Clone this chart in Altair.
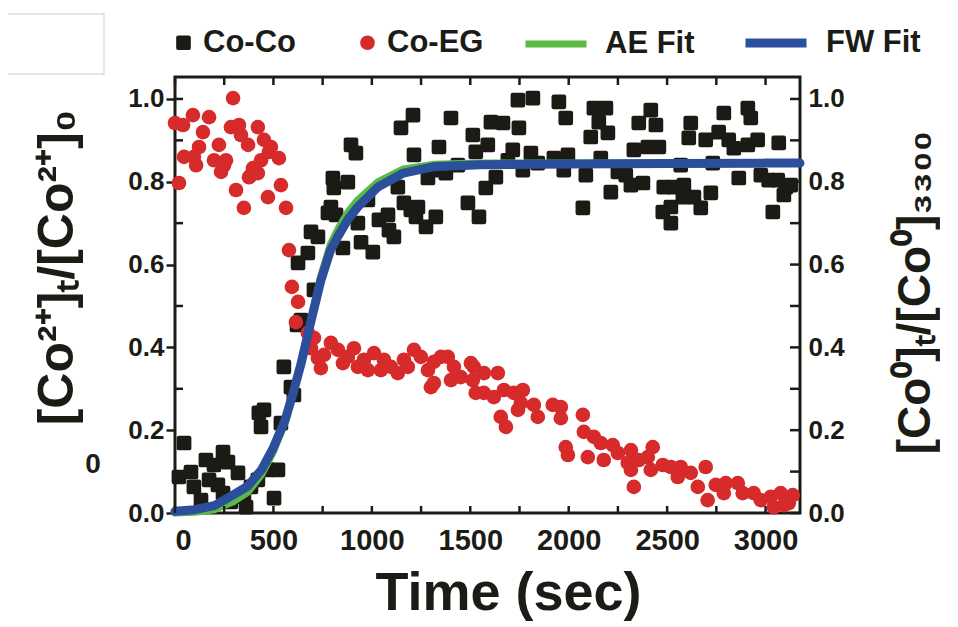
import altair as alt
import pandas as pd

# ---------------- data ----------------
# Co-Co (black squares): time (sec) and normalised value
cc_t = [20, 46, 81, 96, 132, 157, 173, 198, 218, 244,
        269, 244, 284, 320, 350, 361, 386, 421, 426, 452,
        437, 472, 523, 503, 538, 553, 589, 604, 620, 640,
        706, 625, 675, 691, 726, 777, 792, 818, 802, 807,
        878, 853, 894, 919, 929, 980, 945, 1005, 1036, 1082,
        1087, 1112, 1132, 1148, 1209, 1163, 1198, 1234, 1224, 1275,
        1214, 1285, 1325, 1341, 1351, 1376, 1402, 1437, 1488, 1513,
        1528, 1544, 1589, 1605, 1666, 1742, 1818, 1747, 1716, 1808,
        1843, 1767, 1691, 1630, 1579, 1950, 1985, 1925, 1996, 1975,
        2072, 2087, 2112, 2128, 2189, 2153, 2199, 2163, 2214, 2250,
        2290, 2316, 2377, 2331, 2356, 2417, 2443, 2402, 2458, 2483,
        2534, 2585, 2478, 2519, 2519, 2569, 2580, 2610, 2620, 2636,
        2671, 2696, 2722, 2732, 2762, 2788, 2813, 2839, 2864, 2910,
        2925, 2910, 2960, 2976, 3016, 3037, 3067, 3062, 3103, 3093,
        3128]
cc_v = [0.087, 0.169, 0.099, 0.063, 0.031, 0.128, 0.080, 0.116, 0.068, 0.147,
        0.123, 0.048, 0.027, 0.097, 0.039, 0.014, 0.063, 0.080, 0.242, 0.249,
        0.208, 0.104, 0.104, 0.036, 0.217, 0.353, 0.304, 0.285, 0.454, 0.466,
        0.539, 0.604, 0.628, 0.679, 0.667, 0.725, 0.739, 0.720, 0.809, 0.785,
        0.799, 0.640, 0.889, 0.869, 0.700, 0.756, 0.654, 0.630, 0.708, 0.720,
        0.683, 0.667, 0.787, 0.930, 0.961, 0.749, 0.732, 0.739, 0.715, 0.691,
        0.865, 0.809, 0.715, 0.884, 0.828, 0.821, 0.954, 0.840, 0.749, 0.913,
        0.872, 0.715, 0.889, 0.944, 0.942, 0.997, 1.002, 0.930, 0.877, 0.869,
        0.845, 0.828, 0.852, 0.811, 0.785, 0.993, 0.954, 0.857, 0.865, 0.828,
        0.737, 0.816, 0.908, 0.978, 0.978, 0.944, 0.918, 0.857, 0.775, 0.824,
        0.816, 0.792, 0.797, 0.877, 0.942, 0.973, 0.937, 0.884, 0.884, 0.787,
        0.787, 0.792, 0.727, 0.739, 0.700, 0.840, 0.763, 0.906, 0.942, 0.763,
        0.737, 0.901, 0.773, 0.845, 0.920, 0.966, 0.901, 0.881, 0.809, 0.978,
        0.954, 0.889, 0.901, 0.816, 0.804, 0.727, 0.894, 0.804, 0.787, 0.768,
        0.792]

# Co-EG (red circles)
eg_t = [0, 41, 91, 142, 173, 122, 96, 46, 107, 20,
        223, 198, 249, 234, 295, 284, 325, 335, 371, 310,
        350, 396, 376, 421, 452, 437, 421, 487, 528, 472,
        538, 564, 477, 386, 259, 579, 594, 625, 614, 675,
        706, 691, 726, 741, 757, 792, 828, 853, 878, 909,
        929, 960, 980, 1011, 1046, 1061, 1097, 1132, 1163, 1183,
        1214, 1249, 1285, 1300, 1315, 1315, 1351, 1386, 1402, 1417,
        1452, 1503, 1528, 1518, 1513, 1569, 1640, 1569, 1620, 1671,
        1721, 1767, 1757, 1742, 1655, 1681, 1823, 1843, 1919, 1960,
        1960, 2072, 2077, 2128, 2163, 2224, 1985, 1996, 2097, 2178,
        2250, 2316, 2300, 2356, 2316, 2331, 2427, 2402, 2417, 2478,
        2519, 2569, 2554, 2620, 2696, 2656, 2706, 2747, 2798, 2788,
        2859, 2884, 2940, 2976, 3026, 3042, 3077, 3118, 3138, 3093]
eg_v = [0.942, 0.937, 0.961, 0.920, 0.956, 0.884, 0.860, 0.860, 0.840, 0.797,
        0.889, 0.852, 0.840, 0.824, 1.002, 0.932, 0.937, 0.913, 0.889, 0.780,
        0.737, 0.833, 0.811, 0.932, 0.901, 0.852, 0.821, 0.884, 0.857, 0.763,
        0.792, 0.737, 0.872, 0.816, 0.852, 0.635, 0.546, 0.510, 0.461, 0.435,
        0.423, 0.398, 0.374, 0.350, 0.382, 0.411, 0.394, 0.362, 0.377, 0.398,
        0.353, 0.370, 0.345, 0.386, 0.345, 0.370, 0.353, 0.338, 0.370, 0.353,
        0.394, 0.377, 0.345, 0.304, 0.314, 0.365, 0.377, 0.377, 0.321, 0.353,
        0.328, 0.362, 0.290, 0.353, 0.321, 0.338, 0.338, 0.290, 0.280, 0.297,
        0.290, 0.297, 0.266, 0.249, 0.232, 0.208, 0.261, 0.232, 0.261, 0.256,
        0.229, 0.237, 0.196, 0.184, 0.169, 0.164, 0.159, 0.140, 0.135, 0.128,
        0.145, 0.152, 0.121, 0.128, 0.104, 0.063, 0.159, 0.135, 0.104, 0.116,
        0.111, 0.111, 0.087, 0.097, 0.111, 0.063, 0.031, 0.068, 0.072, 0.048,
        0.072, 0.048, 0.048, 0.031, 0.039, 0.014, 0.048, 0.024, 0.043, 0.019]

# Fit curves
fit_t = [0, 100, 200, 300, 370, 440, 500, 560, 600, 640, 690, 740, 790, 830,
         880, 930, 1030, 1160, 1310, 1550, 2000, 2500, 3000, 3175]
ae_v = [0.000, 0.002, 0.008, 0.028, 0.050, 0.092, 0.148, 0.220, 0.288, 0.362,
        0.468, 0.572, 0.650, 0.688, 0.728, 0.757, 0.800, 0.831, 0.842, 0.845,
        0.845, 0.845, 0.845, 0.845]
fw_v = [0.004, 0.008, 0.018, 0.045, 0.065, 0.105, 0.158, 0.225, 0.290, 0.360,
        0.462, 0.560, 0.635, 0.670, 0.710, 0.740, 0.787, 0.821, 0.836, 0.841,
        0.843, 0.844, 0.845, 0.845]

series_names = ["Co-Co", "Co-EG"]
fit_names = ["AE Fit", "FW Fit"]
x_label_vals = [0, 500, 1000, 1500, 2000, 2500, 3000]
x_tick_vals = [0, 250, 500, 750, 1000, 1250, 1500, 1750, 2000, 2250, 2500, 2750, 3000]
y_label_vals = [0.0, 0.2, 0.4, 0.6, 0.8, 1.0]
y_tick_vals = [0.0, 0.1, 0.2, 0.3, 0.4, 0.5, 0.6, 0.7, 0.8, 0.9, 1.0]
y_minor_vals = [0.1, 0.3, 0.5, 0.7, 0.9, 1.0]

# ---------------- styling ----------------
W, H = 625, 436
INK = "#1c1c17"
FONT = "Liberation Sans"
BLACK = "#1b1a15"
RED = "#d62a2b"
GREEN = "#5bb946"
BLUE = "#2c4f9c"
ROUND_SQUARE = ("M-0.7,-1L0.7,-1Q1,-1 1,-0.7L1,0.7Q1,1 0.7,1L-0.7,1"
                "Q-1,1 -1,0.7L-1,-0.7Q-1,-1 -0.7,-1Z")

pts = pd.DataFrame({
    "t": cc_t + eg_t,
    "v": cc_v + eg_v,
    "series": [series_names[0]] * len(cc_t) + [series_names[1]] * len(eg_t),
})
fits = pd.DataFrame({
    "t": fit_t + fit_t,
    "v": ae_v + fw_v,
    "fit": [fit_names[0]] * len(fit_t) + [fit_names[1]] * len(fit_t),
})

xs = alt.Scale(domain=[0, 3175], nice=False, zero=False)
ys = alt.Scale(domain=[0, 1.053], nice=False, zero=False)

label_style = dict(labelFont=FONT, labelFontWeight="bold", labelColor=INK)
title_style = dict(titleFont=FONT, titleFontWeight="bold", titleColor=INK)

leg_points = dict(title=None, orient="none", direction="horizontal",
                  legendX=-7, legendY=-50, padding=0,
                  labelFont=FONT, labelFontSize=31, labelFontWeight="bold",
                  labelColor=INK, labelOffset=4, columnPadding=56,
                  labelLimit=400, symbolSize=215, symbolStrokeWidth=0)
leg_lines = dict(title=None, orient="none", direction="horizontal",
                 legendX=347, legendY=-69, padding=0,
                 labelFont=FONT, labelFontSize=31, labelFontWeight="bold",
                 labelColor=INK, labelOffset=15, columnPadding=32,
                 labelLimit=400, symbolType="stroke", symbolSize=3721,
                 symbolStrokeWidth=8)

x_axis = alt.Axis(values=x_label_vals, format="d", title="Time (sec)",
                  titleFontSize=54, titleX=333, titleY=96,
                  titleAlign="center", titleBaseline="alphabetic",
                  labelFontSize=29, labelPadding=13, ticks=False,
                  domain=False, grid=False, **label_style, **title_style)
y_left = alt.Axis(values=y_label_vals, format=".1f",
                  title="[Co²⁺]ₜ/[Co²⁺]₀", titleFontSize=50, titleAngle=270,
                  titleX=-118, titleY=190, titleAlign="center",
                  titleBaseline="middle",
                  labelFontSize=26, labelPadding=2, ticks=True, tickSize=9,
                  tickWidth=2.5, tickColor=INK, domain=False, grid=False,
                  **label_style, **title_style)
y_right = alt.Axis(orient="right", values=y_label_vals, format=".1f",
                   title="[Co⁰]ₜ/[Co⁰]₃₃₀₀", titleFontSize=46, titleAngle=270,
                   titleX=115, titleY=215, titleAlign="center",
                   titleBaseline="middle",
                   labelFontSize=26, labelPadding=8, ticks=False,
                   domain=False, grid=False, **label_style, **title_style)

points = alt.Chart(pts).mark_point(filled=True, opacity=1, size=215).encode(
    x=alt.X("t:Q", scale=xs, axis=x_axis),
    y=alt.Y("v:Q", scale=ys, axis=y_left),
    color=alt.Color("series:N",
                    scale=alt.Scale(domain=series_names, range=[BLACK, RED]),
                    legend=alt.Legend(**leg_points)),
    shape=alt.Shape("series:N",
                    scale=alt.Scale(domain=series_names,
                                    range=[ROUND_SQUARE, "circle"]),
                    legend=alt.Legend(**leg_points)),
)

lines = alt.Chart(fits).mark_line(strokeCap="round", strokeJoin="round").encode(
    x=alt.X("t:Q", scale=xs, axis=None),
    y=alt.Y("v:Q", scale=ys, axis=y_right),
    stroke=alt.Stroke("fit:N",
                      scale=alt.Scale(domain=fit_names, range=[GREEN, BLUE]),
                      legend=alt.Legend(**leg_lines)),
    strokeWidth=alt.StrokeWidth("fit:N",
                                scale=alt.Scale(domain=fit_names, range=[7, 9]),
                                legend=None),
)

xt = pd.DataFrame({"t": x_tick_vals})
yt = pd.DataFrame({"v": y_tick_vals})
ym = pd.DataFrame({"v": y_minor_vals})

bottom_ticks = alt.Chart(xt).mark_rule(color=INK, strokeWidth=2.5).encode(
    x=alt.X("t:Q", scale=xs, axis=None), y=alt.value(H), y2=alt.value(H - 7))
top_ticks = alt.Chart(xt).mark_rule(color=INK, strokeWidth=2.5).encode(
    x=alt.X("t:Q", scale=xs, axis=None), y=alt.value(0), y2=alt.value(8))
right_ticks = alt.Chart(yt).mark_rule(color=INK, strokeWidth=2.5).encode(
    y=alt.Y("v:Q", scale=ys, axis=None), x=alt.value(W), x2=alt.value(W - 10))
left_minor = alt.Chart(ym).mark_rule(color=INK, strokeWidth=2.5).encode(
    y=alt.Y("v:Q", scale=ys, axis=None), x=alt.value(0), x2=alt.value(8))

stray_zero = alt.Chart(alt.Data(values=[{}])).mark_text(
    text="0", font=FONT, fontSize=28, fontWeight="bold", color=INK,
    align="center", baseline="middle").encode(x=alt.value(-82), y=alt.value(388))

corner_box = alt.Chart(alt.Data(values=[{}])).mark_rect(
    fillOpacity=0, stroke="#dedede", strokeWidth=1.5).encode(
    x=alt.value(-169), x2=alt.value(-71), y=alt.value(-63), y2=alt.value(-3))

chart = alt.layer(
    points, lines, bottom_ticks, top_ticks, right_ticks, left_minor,
    stray_zero, corner_box,
).resolve_scale(x="shared", y="shared").resolve_axis(
    x="independent", y="independent"
).properties(
    width=W, height=H,
    padding={"left": 167, "top": 69, "right": 140, "bottom": 108},
    autosize=alt.AutoSizeParams(type="none"),
    background="white",
).configure_view(stroke=INK, strokeWidth=3)

chart.save("out.html", embed_options={"renderer": "svg", "actions": False})
